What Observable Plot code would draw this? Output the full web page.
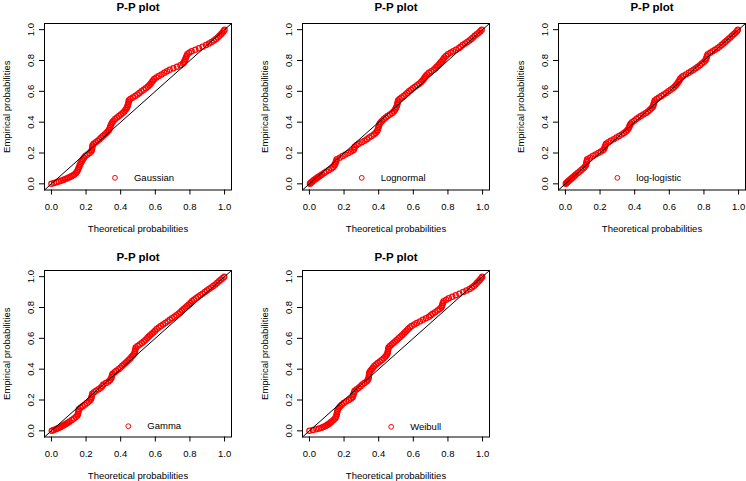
<!DOCTYPE html>
<html>
<head>
<meta charset="utf-8">
<script src="https://cdn.jsdelivr.net/npm/d3@7"></script>
<script src="https://cdn.jsdelivr.net/npm/@observablehq/plot@0.6"></script>
<style>
  body { margin: 0; background: #fff; }
  #wrap { position: relative; width: 746px; height: 481px; overflow: hidden; background: #fff; }
  .panel { position: absolute; width: 246px; height: 240px; }
  .panel svg { max-width: none !important; }
</style>
</head>
<body>
<div id="wrap"></div>
<script>
// ---- data ----
const titles = ["P-P plot", "P-P plot", "P-P plot", "P-P plot", "P-P plot"];
const distributions = ["Gaussian", "Lognormal", "log-logistic", "Gamma", "Weibull"];

// empirical probabilities (y) shared by every panel
const empirical = [0.00, 0.01, 0.02, 0.03, 0.04, 0.05, 0.06, 0.07, 0.08, 0.09,
  0.10, 0.11, 0.12, 0.13, 0.14, 0.15, 0.16, 0.17, 0.18, 0.19,
  0.20, 0.21, 0.22, 0.23, 0.24, 0.25, 0.26, 0.27, 0.28, 0.29,
  0.30, 0.31, 0.32, 0.33, 0.34, 0.35, 0.36, 0.37, 0.38, 0.39,
  0.40, 0.41, 0.42, 0.43, 0.44, 0.45, 0.46, 0.47, 0.48, 0.49,
  0.50, 0.51, 0.52, 0.53, 0.54, 0.55, 0.56, 0.57, 0.58, 0.59,
  0.60, 0.61, 0.62, 0.63, 0.64, 0.65, 0.66, 0.67, 0.68, 0.69,
  0.70, 0.71, 0.72, 0.73, 0.74, 0.75, 0.76, 0.77, 0.78, 0.79,
  0.80, 0.81, 0.82, 0.83, 0.84, 0.85, 0.86, 0.87, 0.88, 0.89,
  0.90, 0.91, 0.92, 0.93, 0.94, 0.95, 0.96, 0.97, 0.98, 0.99, 1.00];

// theoretical probabilities (x) per fitted distribution
const gaussianX = [0.000, 0.030, 0.055, 0.078, 0.098, 0.116, 0.132, 0.142, 0.148, 0.153,
  0.156, 0.160, 0.163, 0.167, 0.172, 0.177, 0.182, 0.188, 0.196, 0.208,
  0.220, 0.229, 0.234, 0.235, 0.236, 0.238, 0.245, 0.256, 0.268, 0.278,
  0.288, 0.298, 0.308, 0.317, 0.325, 0.332, 0.337, 0.340, 0.343, 0.347,
  0.352, 0.359, 0.368, 0.379, 0.390, 0.401, 0.412, 0.421, 0.428, 0.434,
  0.438, 0.441, 0.444, 0.446, 0.447, 0.456, 0.470, 0.484, 0.497, 0.508,
  0.520, 0.533, 0.545, 0.556, 0.565, 0.573, 0.580, 0.587, 0.594, 0.606,
  0.620, 0.636, 0.652, 0.667, 0.683, 0.704, 0.725, 0.745, 0.760, 0.766,
  0.770, 0.774, 0.777, 0.781, 0.785, 0.796, 0.810, 0.831, 0.852, 0.873,
  0.893, 0.910, 0.925, 0.938, 0.950, 0.960, 0.970, 0.979, 0.987, 0.994, 1.000];
const lognormalX = [0.003, 0.012, 0.022, 0.033, 0.045, 0.058, 0.072, 0.085, 0.098, 0.113,
  0.128, 0.138, 0.145, 0.149, 0.152, 0.155, 0.158, 0.175, 0.192, 0.208,
  0.225, 0.241, 0.255, 0.259, 0.262, 0.272, 0.285, 0.302, 0.318, 0.332,
  0.345, 0.359, 0.372, 0.382, 0.390, 0.394, 0.397, 0.400, 0.402, 0.406,
  0.412, 0.420, 0.430, 0.441, 0.452, 0.465, 0.478, 0.487, 0.494, 0.499,
  0.503, 0.506, 0.508, 0.510, 0.512, 0.521, 0.532, 0.544, 0.555, 0.565,
  0.575, 0.587, 0.598, 0.610, 0.622, 0.634, 0.645, 0.653, 0.660, 0.666,
  0.672, 0.680, 0.690, 0.704, 0.718, 0.727, 0.735, 0.744, 0.752, 0.760,
  0.768, 0.774, 0.780, 0.789, 0.800, 0.815, 0.830, 0.846, 0.862, 0.873,
  0.885, 0.899, 0.912, 0.924, 0.935, 0.945, 0.955, 0.966, 0.978, 0.987, 0.995];
const loglogisticX = [0.002, 0.010, 0.020, 0.030, 0.040, 0.050, 0.060, 0.071, 0.082, 0.092,
  0.102, 0.111, 0.118, 0.120, 0.122, 0.124, 0.126, 0.142, 0.158, 0.174,
  0.190, 0.205, 0.218, 0.224, 0.228, 0.231, 0.235, 0.248, 0.262, 0.279,
  0.295, 0.310, 0.325, 0.338, 0.350, 0.358, 0.365, 0.369, 0.372, 0.377,
  0.385, 0.397, 0.410, 0.422, 0.435, 0.450, 0.465, 0.477, 0.488, 0.497,
  0.505, 0.508, 0.510, 0.513, 0.516, 0.527, 0.540, 0.554, 0.568, 0.582,
  0.595, 0.608, 0.620, 0.630, 0.638, 0.645, 0.652, 0.658, 0.662, 0.670,
  0.680, 0.696, 0.712, 0.726, 0.740, 0.753, 0.765, 0.777, 0.788, 0.799,
  0.808, 0.812, 0.815, 0.818, 0.822, 0.836, 0.850, 0.864, 0.878, 0.890,
  0.902, 0.912, 0.922, 0.932, 0.942, 0.952, 0.962, 0.972, 0.982, 0.990, 0.996];
const gammaX = [0.002, 0.025, 0.045, 0.060, 0.075, 0.090, 0.105, 0.118, 0.130, 0.141,
  0.150, 0.153, 0.155, 0.157, 0.158, 0.168, 0.180, 0.193, 0.205, 0.216,
  0.225, 0.229, 0.232, 0.234, 0.236, 0.246, 0.258, 0.272, 0.285, 0.293,
  0.300, 0.315, 0.330, 0.339, 0.345, 0.348, 0.350, 0.354, 0.365, 0.375,
  0.388, 0.398, 0.408, 0.418, 0.428, 0.437, 0.446, 0.455, 0.463, 0.471,
  0.478, 0.481, 0.483, 0.485, 0.487, 0.498, 0.510, 0.522, 0.533, 0.543,
  0.553, 0.561, 0.570, 0.580, 0.590, 0.599, 0.608, 0.620, 0.632, 0.645,
  0.658, 0.671, 0.684, 0.697, 0.710, 0.722, 0.734, 0.744, 0.754, 0.764,
  0.774, 0.784, 0.794, 0.803, 0.812, 0.823, 0.835, 0.847, 0.860, 0.873,
  0.886, 0.898, 0.910, 0.923, 0.935, 0.947, 0.958, 0.968, 0.978, 0.988, 0.998];
const weibullX = [0.000, 0.040, 0.070, 0.090, 0.105, 0.117, 0.128, 0.139, 0.148, 0.153,
  0.156, 0.158, 0.160, 0.162, 0.165, 0.171, 0.178, 0.187, 0.198, 0.212,
  0.228, 0.241, 0.250, 0.253, 0.255, 0.258, 0.262, 0.273, 0.285, 0.295,
  0.305, 0.318, 0.330, 0.337, 0.341, 0.343, 0.344, 0.345, 0.347, 0.353,
  0.360, 0.367, 0.375, 0.385, 0.395, 0.407, 0.418, 0.428, 0.438, 0.445,
  0.450, 0.452, 0.454, 0.455, 0.457, 0.465, 0.475, 0.485, 0.495, 0.505,
  0.515, 0.525, 0.535, 0.544, 0.552, 0.561, 0.570, 0.580, 0.590, 0.605,
  0.620, 0.638, 0.655, 0.673, 0.690, 0.701, 0.712, 0.726, 0.740, 0.752,
  0.762, 0.765, 0.768, 0.771, 0.775, 0.790, 0.805, 0.825, 0.845, 0.866,
  0.888, 0.907, 0.925, 0.938, 0.950, 0.959, 0.968, 0.977, 0.985, 0.992, 0.998];

// extra points in the dense lower tail (empirical y and theoretical x)
const tailY = [0.005, 0.015, 0.025, 0.035, 0.045, 0.055];
const gaussianTailX = [0.015, 0.043, 0.067, 0.088, 0.107, 0.124];
const lognormalTailX = [0.007, 0.017, 0.027, 0.039, 0.051, 0.065];
const loglogisticTailX = [0.006, 0.015, 0.025, 0.035, 0.045, 0.055];
const gammaTailX = [0.013, 0.035, 0.053, 0.068, 0.083, 0.098];
const weibullTailX = [0.020, 0.056, 0.080, 0.098, 0.111, 0.123];

const series = [gaussianX, lognormalX, loglogisticX, gammaX, weibullX];
const tails = [gaussianTailX, lognormalTailX, loglogisticTailX, gammaTailX, weibullTailX];

// axis ticks
const tickValues = [0, 0.2, 0.4, 0.6, 0.8, 1.0];
const tickLabels = ["0.0", "0.2", "0.4", "0.6", "0.8", "1.0"];
const axisRange = [-0.04, 1.04];

// legend anchor (in data units of each panel)
const legendX = [0.367, 0.302, 0.300, 0.444, 0.472];
const legendY = [0.039, 0.039, 0.039, 0.030, 0.026];

// ---- layout ----
const panelLeft = [0, 258, 514, 0, 258];
const panelTop = [0, 0, 0, 247, 247];
const titleDy = [-16.3, -16.3, -16.3, -13.5, -13.5];
const FONT = "'Liberation Sans', Arial, Helvetica, sans-serif";

const fmt = d => tickLabels[tickValues.indexOf(d)];

function makePanel(i) {
  const pts = series[i].map((x, j) => ({x, y: empirical[j]}))
    .concat(tails[i].map((x, j) => ({x, y: tailY[j]})));
  return Plot.plot({
    width: 246,
    height: 240,
    marginLeft: 44,
    marginRight: 15,
    marginTop: 23,
    marginBottom: 50.5,
    x: {domain: axisRange},
    y: {domain: axisRange},
    style: {fontFamily: FONT, fontSize: "9.5px", background: "transparent", overflow: "visible", color: "#000"},
    marks: [
      Plot.dot(pts, {x: "x", y: "y", r: 2.6, stroke: "#ff0000", strokeWidth: 1.25, fill: "none"}),
      Plot.line(axisRange, {x: d => d, y: d => d, stroke: "#000", strokeWidth: 1}),
      Plot.frame({stroke: "#000", strokeWidth: 1}),
      Plot.axisX({
        ticks: tickValues, tickFormat: fmt, tickSize: 5, tickPadding: 8,
        label: "Theoretical probabilities", labelAnchor: "center", labelOffset: 42, labelArrow: "none"
      }),
      Plot.axisY({
        ticks: tickValues, tickFormat: fmt, tickSize: 5, tickPadding: 6, tickRotate: -90,
        label: "Empirical probabilities", labelAnchor: "center", labelArrow: "none"
      }),
      Plot.dot([distributions[i]], {x: () => legendX[i], y: () => legendY[i], r: 2.4, stroke: "#ff0000", strokeWidth: 1, fill: "none"}),
      Plot.text([distributions[i]], {x: () => legendX[i], y: () => legendY[i], text: d => d, textAnchor: "start", dx: 19, fontSize: 9.5}),
      Plot.text([titles[i]], {frameAnchor: "top", lineAnchor: "middle", dy: titleDy[i], text: d => d, fontWeight: "bold", fontSize: 11.5})
    ]
  });
}

const wrap = document.getElementById("wrap");
for (let i = 0; i < series.length; i++) {
  const div = document.createElement("div");
  div.className = "panel";
  div.style.left = panelLeft[i] + "px";
  div.style.top = panelTop[i] + "px";
  div.appendChild(makePanel(i));
  wrap.appendChild(div);
}
</script>
</body>
</html>
